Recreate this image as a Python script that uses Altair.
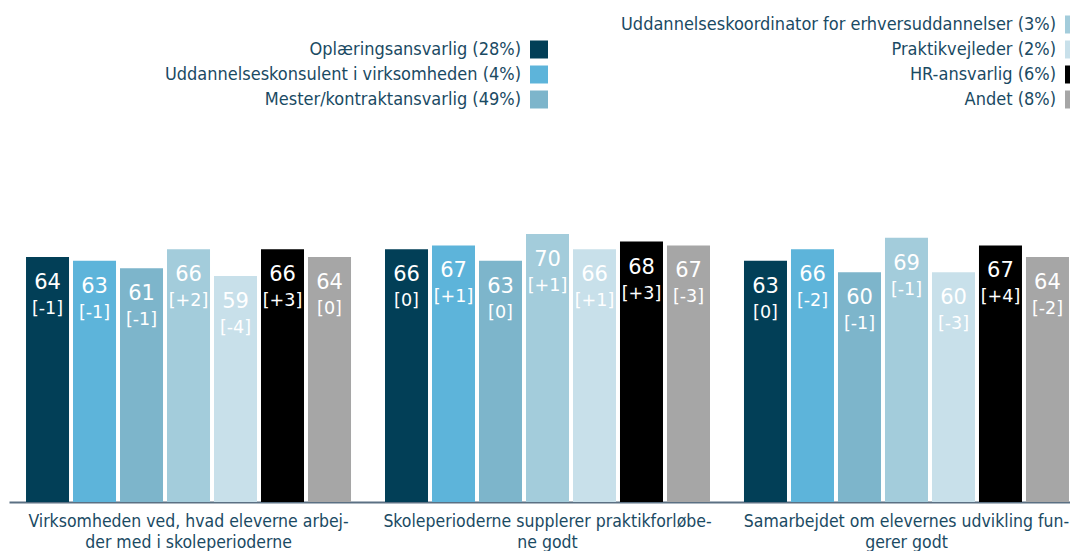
import altair as alt
import pandas as pd

groups = [
    "Virksomheden ved, hvad eleverne arbej-|der med i skoleperioderne",
    "Skoleperioderne supplerer praktikforløbe-|ne godt",
    "Samarbejdet om elevernes udvikling fun-|gerer godt",
]
roles = [
    "Oplæringsansvarlig (28%)",
    "Uddannelseskonsulent i virksomheden (4%)",
    "Mester/kontraktansvarlig (49%)",
    "Uddannelseskoordinator for erhversuddannelser (3%)",
    "Praktikvejleder (2%)",
    "HR-ansvarlig (6%)",
    "Andet (8%)",
]
colors = ["#023F57", "#5DB4DA", "#7DB5CB", "#A3CCDB", "#C8E0EA", "#000000", "#A6A6A6"]

values = [
    [64, 63, 61, 66, 59, 66, 64],
    [66, 67, 63, 70, 66, 68, 67],
    [63, 66, 60, 69, 60, 67, 64],
]
changes = [
    [-1, -1, -1, 2, -4, 3, 0],
    [0, 1, 0, 1, 1, 3, -3],
    [0, -2, -1, -1, -3, 4, -2],
]

# legend layout: column and row of each role
legend_col = [0, 0, 0, 1, 1, 1, 1]
legend_row = [1, 2, 3, 0, 1, 2, 3]

TEXT = "#1A4A63"
FONT = "DejaVu Sans Condensed, DejaVu Sans"

rows = []
for gi, g in enumerate(groups):
    for ri, r in enumerate(roles):
        rows.append({"group": g, "role": r, "value": values[gi][ri], "change": changes[gi][ri]})
df = pd.DataFrame(rows)

leg = pd.DataFrame({"role": roles, "col": legend_col, "row": legend_row})

color = alt.Color("role:N", scale=alt.Scale(domain=roles, range=colors), legend=None)

W = 1061
H = 383

# ---- legend (drawn above the plot area) ----
lx = alt.X("col:Q", axis=None, scale=alt.Scale(domain=[0, 1], range=[530, 1065], nice=False, zero=False))
ly = alt.Y("row:Q", axis=None,
           scale=alt.Scale(domain=[3.78, 3.78 + H / 25], reverse=True, nice=False, zero=False))
leg_sw = alt.Chart(leg).mark_square(size=324, opacity=1).encode(x=lx, y=ly, color=color)
leg_tx = alt.Chart(leg).mark_text(align="right", baseline="middle", dx=-18, fontSize=18,
                                    font=FONT, color=TEXT).encode(x=lx, y=ly, text="role:N")
legend = alt.layer(leg_sw, leg_tx)

# ---- bars ----
x = alt.X("group:N", sort=groups, title=None,
          scale=alt.Scale(range=[0, 1077], paddingInner=0.0947, paddingOuter=0.0474),
          axis=alt.Axis(labelExpr="split(datum.label, '|')", labelAngle=0, ticks=False,
                        labelFontSize=17.5, labelFont=FONT, labelColor=TEXT, labelPadding=10,
                        labelLineHeight=21, domainColor="#5B7083", domainWidth=2,
                        labelLimit=400))
xo = alt.XOffset("role:N", sort=roles, scale=alt.Scale(paddingInner=0.085, paddingOuter=0))
y = alt.Y("value:Q", axis=None, scale=alt.Scale(domain=[0, 100]))

base = alt.Chart(df).encode(x=x, xOffset=xo, y=y)
bars = base.mark_bar().encode(color=color)
num = base.mark_text(baseline="middle", dy=26, fontSize=21, font="DejaVu Sans", color="white").encode(
    text=alt.Text("value:Q"))
chg = base.transform_calculate(
    lab="datum.change > 0 ? '[+' + datum.change + ']' : '[' + datum.change + ']'"
).mark_text(baseline="middle", dy=52, fontSize=17.5, font="DejaVu Sans", color="white").encode(
    text="lab:N")

barchart = alt.layer(bars, num, chg)

chart = alt.layer(barchart, legend).resolve_scale(x="independent", y="independent").properties(
    width=W, height=H,
    autosize=alt.AutoSizeParams(type="none"),
    padding={"left": 1, "top": 111, "right": 0, "bottom": 49},
).configure(background="white").configure_view(stroke=None)

chart.save("out.html", embed_options={"renderer": "svg", "actions": False})
